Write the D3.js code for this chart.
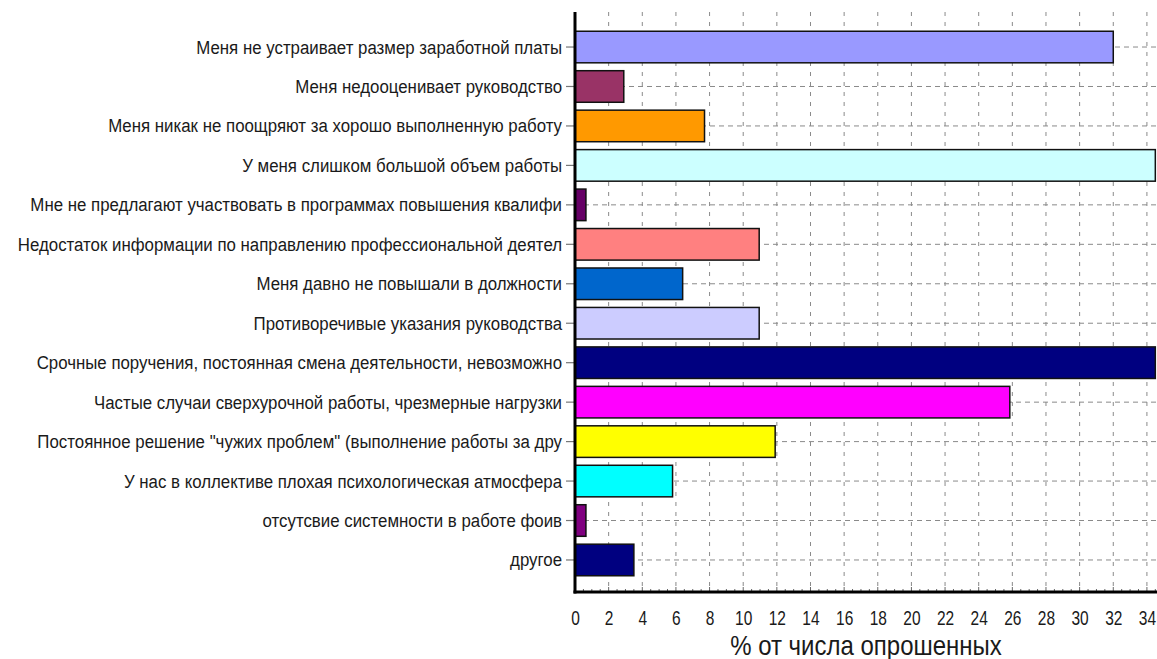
<!DOCTYPE html>
<html><head><meta charset="utf-8">
<script src="https://cdn.jsdelivr.net/npm/d3@7"></script>
<style>body{margin:0;background:#fff}svg{display:block}text{font-family:"Liberation Sans",Arial,sans-serif}</style>
</head><body><svg id="c" width="1157" height="659"></svg>
<script>
const categories = [
 "Меня не устраивает размер заработной платы",
 "Меня недооценивает руководство",
 "Меня никак не поощряют за хорошо выполненную работу",
 "У меня слишком большой объем работы",
 "Мне не предлагают участвовать в программах повышения квалифи",
 "Недостаток информации по направлению профессиональной деятел",
 "Меня давно не повышали в должности",
 "Противоречивые указания руководства",
 "Срочные поручения, постоянная смена деятельности, невозможно",
 "Частые случаи сверхурочной работы, чрезмерные нагрузки",
 "Постоянное решение \"чужих проблем\" (выполнение работы за дру",
 "У нас в коллективе плохая психологическая атмосфера",
 "отсутсвие системности в работе фоив",
 "другое"
];
const values = [32, 2.9, 7.7, 34.5, 0.65, 10.95, 6.4, 10.95, 34.5, 25.85, 11.9, 5.8, 0.65, 3.5];
const colors = ["#9999ff","#993366","#ff9900","#ccffff","#660066","#ff8080","#0066cc","#ccccff","#000080","#ff00ff","#ffff00","#00ffff","#800080","#000080"];
const xTicks = [0,2,4,6,8,10,12,14,16,18,20,22,24,26,28,30,32,34];
const xTitle = "% от числа опрошенных";

const svg = d3.select("#c");
const L = 575, R = 1157, T = 12, B = 592;
const x = d3.scaleLinear().domain([0, 34.6]).range([L, R]);
const y = d3.scaleBand().domain(categories).range([27.3, 579.7]).paddingInner(0.2).paddingOuter(0.1);

// grid
const g = svg.append("g");
g.selectAll(".vg").data(xTicks.filter(d=>d>0)).join("line")
 .attr("x1", d=>x(d)).attr("x2", d=>x(d)).attr("y1", T).attr("y2", B)
 .attr("stroke", "#8a8a8a").attr("stroke-width", 1).attr("stroke-dasharray", "4,6");
g.selectAll(".hg").data(categories).join("line")
 .attr("x1", L).attr("x2", R).attr("y1", d=>y(d)+y.bandwidth()/2).attr("y2", d=>y(d)+y.bandwidth()/2)
 .attr("stroke", "#8a8a8a").attr("stroke-width", 1).attr("stroke-dasharray", "5,4");

// bars
svg.append("g").selectAll("rect").data(categories).join("rect")
 .attr("x", x(0)).attr("y", d=>y(d))
 .attr("width", (d,i)=>Math.min(x(values[i]), R-1.5)-x(0))
 .attr("height", y.bandwidth())
 .attr("fill", (d,i)=>colors[i]).attr("stroke", "#111").attr("stroke-width", 1.5);

// y axis
const ya = svg.append("g").attr("transform", `translate(${L},0)`)
 .call(d3.axisLeft(y).tickSize(9).tickPadding(4));
ya.select(".domain").remove();
ya.selectAll(".tick line").attr("stroke", "#777").attr("stroke-width", 1.2);
ya.selectAll(".tick text").attr("font-size", 16.85).attr("fill", "#1a1a1a")
 .attr("font-family", "\"Liberation Sans\",Arial,sans-serif")
 .attr("dy", "0.34em").attr("transform", "scale(1,1.13)");

// x axis
const xa = svg.append("g").attr("transform", `translate(0,${B})`)
 .call(d3.axisBottom(x).tickValues(xTicks).tickSize(0).tickPadding(0).tickFormat(d3.format("d")));
xa.select(".domain").remove();
xa.selectAll(".tick text").attr("font-size", 15.5).attr("fill", "#1a1a1a")
 .attr("font-family", "\"Liberation Sans\",Arial,sans-serif")
 .attr("y", 0).attr("dy", "0.36em").attr("transform", "translate(0,26) scale(1,1.3)");
// minor ticks
svg.append("g").selectAll("line").data(d3.range(0, 34.6, 0.5)).join("line")
 .attr("x1", d=>x(d)).attr("x2", d=>x(d)).attr("y1", B).attr("y2", d=> d%2===0 ? B-5 : B-3)
 .attr("stroke", "#666").attr("stroke-width", 1);

// axis lines
svg.append("line").attr("x1", L).attr("x2", L).attr("y1", T).attr("y2", B+1.5).attr("stroke", "#000").attr("stroke-width", 3);
svg.append("line").attr("x1", L-1.5).attr("x2", R).attr("y1", B).attr("y2", B).attr("stroke", "#000").attr("stroke-width", 3);

svg.append("text").attr("text-anchor", "middle")
 .attr("transform", `translate(${(L+R)/2},645) scale(1,1.12)`).attr("dy", "0.36em")
 .attr("font-size", 24).attr("fill", "#1a1a1a").text(xTitle);
</script></body></html>
